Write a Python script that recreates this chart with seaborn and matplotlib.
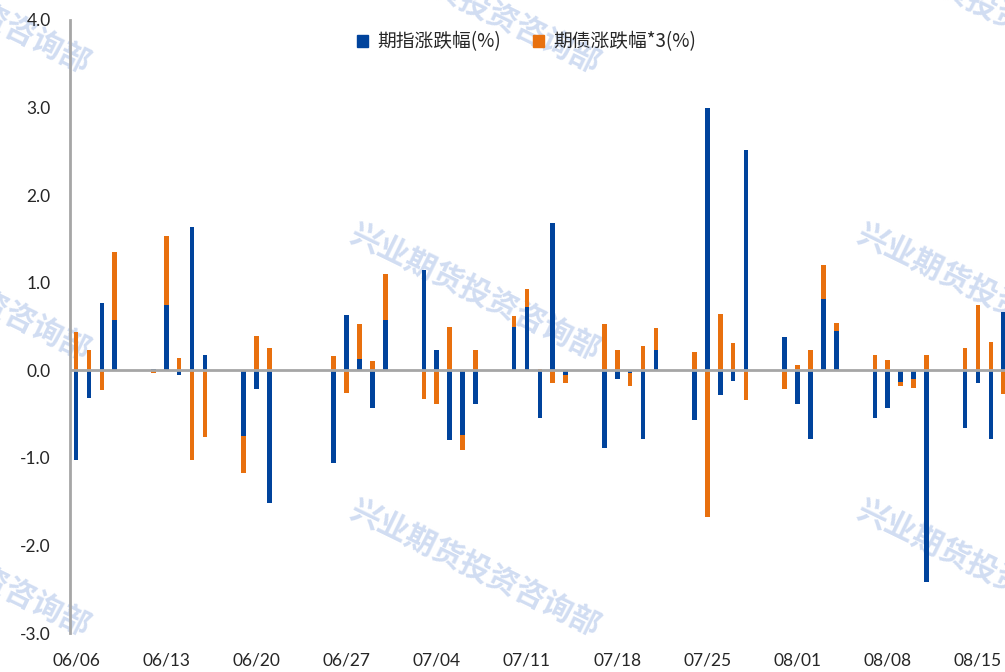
import numpy as np
import pandas as pd
import matplotlib
matplotlib.use("Agg")
import matplotlib.pyplot as plt
import seaborn as sns
from matplotlib.patches import Patch

# trading days (2023) and daily changes
days = ['06-06', '06-07', '06-08', '06-09', '06-12', '06-13', '06-14', '06-15', '06-16',
        '06-19', '06-20', '06-21', '06-26', '06-27', '06-28', '06-29', '06-30',
        '07-03', '07-04', '07-05', '07-06', '07-07', '07-10', '07-11', '07-12', '07-13', '07-14',
        '07-17', '07-18', '07-19', '07-20', '07-21', '07-24', '07-25', '07-26', '07-27', '07-28',
        '07-31', '08-01', '08-02', '08-03', '08-04', '08-07', '08-08', '08-09', '08-10', '08-11',
        '08-14', '08-15', '08-16', '08-17']

index_chg = [-1.03, -0.32, 0.77, 0.57, 0.02, 0.75, -0.05, 1.64, 0.17,
             -0.75, -0.21, -1.51, -1.06, 0.63, 0.13, -0.43, 0.57,
             1.15, 0.23, -0.80, -0.74, -0.39, 0.50, 0.72, -0.54, 1.68, -0.05,
             -0.89, -0.105, -0.03, -0.78, 0.23, -0.57, 2.99, -0.285, -0.12, 2.51,
             0.38, -0.39, -0.79, 0.81, 0.45, -0.545, -0.43, -0.13, -0.095, -2.42,
             -0.655, -0.14, -0.78, 0.66]

bond_chg3 = [0.44, 0.23, -0.22, 0.78, -0.03, 0.78, 0.14, -1.02, -0.76,
             -0.42, 0.39, 0.26, 0.16, -0.265, 0.40, 0.11, 0.53,
             -0.33, -0.39, 0.50, -0.17, 0.23, 0.12, 0.21, 0.01, -0.14, -0.10,
             0.53, 0.235, -0.145, 0.28, 0.255, 0.205, -1.67, 0.64, 0.31, -0.34,
             -0.21, 0.057, 0.235, 0.39, 0.09, 0.175, 0.115, -0.045, -0.105, 0.175,
             0.26, 0.74, 0.32, -0.27]

tick_days = ['06-06', '06-13', '06-20', '06-27', '07-04', '07-11', '07-18', '07-25',
             '08-01', '08-08', '08-15']

labels = ['期指涨跌幅(%)', '期债涨跌幅*3(%)']
BLUE = '#00439C'
ORANGE = '#E8700E'

start = pd.Timestamp('2023-06-06')
dates = pd.to_datetime(['2023-' + d for d in days])
df = pd.DataFrame({'day': (dates - start).days,
                   'index': index_chg, 'bond': bond_chg3})
# excel-style stacking: same sign stacks on top of the index bar, else from zero
same = np.sign(df['index']) == np.sign(df['bond'])
df['bond_top'] = df['bond'] + np.where(same, df['index'], 0.0)

sns.set_style('white')
plt.rcParams['font.family'] = ['Lato', 'Noto Sans CJK SC', 'DejaVu Sans']

fig = plt.figure(figsize=(10.05, 6.72), dpi=100)
ax = fig.add_axes([70 / 1005, 1 - 633 / 672, 1 - 70 / 1005, (633 - 20) / 672])
ax.set_zorder(2)

# watermark (behind the plot)
wm_x = [-35, 475, 982]
wm_y = [5, 292, 568]
for px in wm_x:
    for py in wm_y:
        fig.text(px / 1005, 1 - py / 672, '兴业期货投资咨询部', rotation=-26,
                 ha='center', va='center', fontsize=22, fontweight='bold',
                 color='#C9D7F0', alpha=0.85, zorder=0,
                 family=['Noto Sans CJK SC', 'DejaVu Sans'])

sns.barplot(data=df, x='day', y='bond_top', native_scale=True, width=0.36,
            color=ORANGE, saturation=1, linewidth=0, errorbar=None, ax=ax, zorder=2)
sns.barplot(data=df, x='day', y='index', native_scale=True, width=0.36,
            color=BLUE, saturation=1, linewidth=0, errorbar=None, ax=ax, zorder=3)

ax.axhline(0, color='#A6A6A6', lw=2, zorder=4)
ax.set_ylim(-3, 4)
ax.set_yticks(np.arange(-3, 4.01, 1.0))
ax.set_yticklabels([f'{v:.1f}' for v in np.arange(-3, 4.01, 1.0)], fontsize=12.5)

tick_pos = (pd.to_datetime(['2023-' + d for d in tick_days]) - start).days
ax.set_xticks(tick_pos)
ax.set_xticklabels([d.replace('-', '/') for d in tick_days], fontsize=12.5)
ax.set_xlim(-0.47, 72.1)
ax.tick_params(axis='y', length=0, pad=14)
ax.tick_params(axis='x', length=0, pad=14)
ax.set_xlabel('')
ax.set_ylabel('')

for side in ['top', 'right', 'bottom']:
    ax.spines[side].set_visible(False)
ax.spines['left'].set_color('#A6A6A6')
ax.spines['left'].set_linewidth(2)
ax.patch.set_alpha(0)

handles = [Patch(color=BLUE), Patch(color=ORANGE)]
leg = ax.legend(handles, labels, loc='center', bbox_to_anchor=(0.524, 1 - 42 / 672),
                bbox_transform=fig.transFigure,
                ncol=2, frameon=False, handlelength=0.6, handleheight=0.6,
                handletextpad=0.5, columnspacing=1.7,
                prop={'family': ['Noto Sans CJK SC', 'DejaVu Sans'], 'size': 13.5})

fig.savefig('out.png', dpi=100)
